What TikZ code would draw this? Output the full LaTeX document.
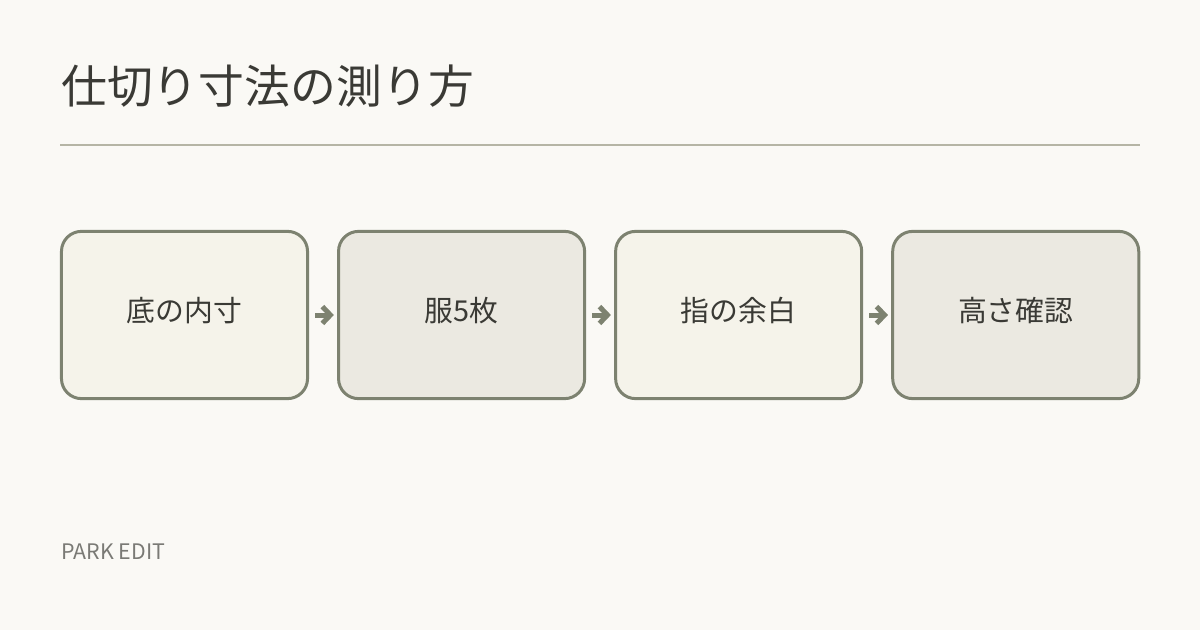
\documentclass[tikz,border=0pt]{standalone}
\usepackage{fontspec}
\setmainfont{Noto Sans CJK JP}
\usetikzlibrary{positioning,arrows.meta}
\definecolor{paper}{HTML}{FAF9F5}
\definecolor{ink}{HTML}{3A3A35}
\definecolor{rim}{HTML}{7D8270}
\definecolor{fillA}{HTML}{F5F3EA}
\definecolor{fillB}{HTML}{EBE9E1}
\definecolor{rulecol}{HTML}{B5B5A5}
\definecolor{brandcol}{HTML}{7A7A75}

\begin{document}
\begin{tikzpicture}[x=0.025cm,y=-0.025cm,
    stepbox/.style={draw=rim,line width=0.075cm,rounded corners=0.5cm,
        minimum width=6.15cm,minimum height=4.18cm,text=ink,
        text height=0.6cm,text depth=0.3cm,
        font=\fontsize{20.5}{24}\selectfont},
    flow/.style={draw=rim,line width=0.125cm,-{Straight Barb[length=0.2cm,width=0.42cm]}},
    node distance=0.7cm]
            \fill[paper] (0,0) rectangle (1200,630);
            \useasboundingbox (0,0) rectangle (1200,630);
            \node[anchor=base west,text=ink,font=\fontsize{32.6}{38}\selectfont,inner sep=0] (title) at (61,104) {仕切り寸法の測り方};
            \coordinate (ruleL) at (60,145);
            \coordinate (ruleR) at (1140,145);
            \draw[rulecol,line width=0.05cm] (ruleL)--(ruleR);
            \node[stepbox,fill=fillA] (s1) at (184.5,315) {底の内寸};
            \node[stepbox,fill=fillB,right=of s1] (s2) {服5枚};
            \node[stepbox,fill=fillA,right=of s2] (s3) {指の余白};
            \node[stepbox,fill=fillB,right=of s3] (s4) {高さ確認};
            \draw[flow] ([xshift=0.15cm]s1.east)--([xshift=-0.08cm]s2.west);
            \draw[flow] ([xshift=0.15cm]s2.east)--([xshift=-0.08cm]s3.west);
            \draw[flow] ([xshift=0.15cm]s3.east)--([xshift=-0.08cm]s4.west);
            \node[anchor=west,text=brandcol,font=\fontsize{15.2}{18}\selectfont,inner sep=0] (brand) at (61,552) {PARK EDIT};
        \end{tikzpicture}
\end{document}
